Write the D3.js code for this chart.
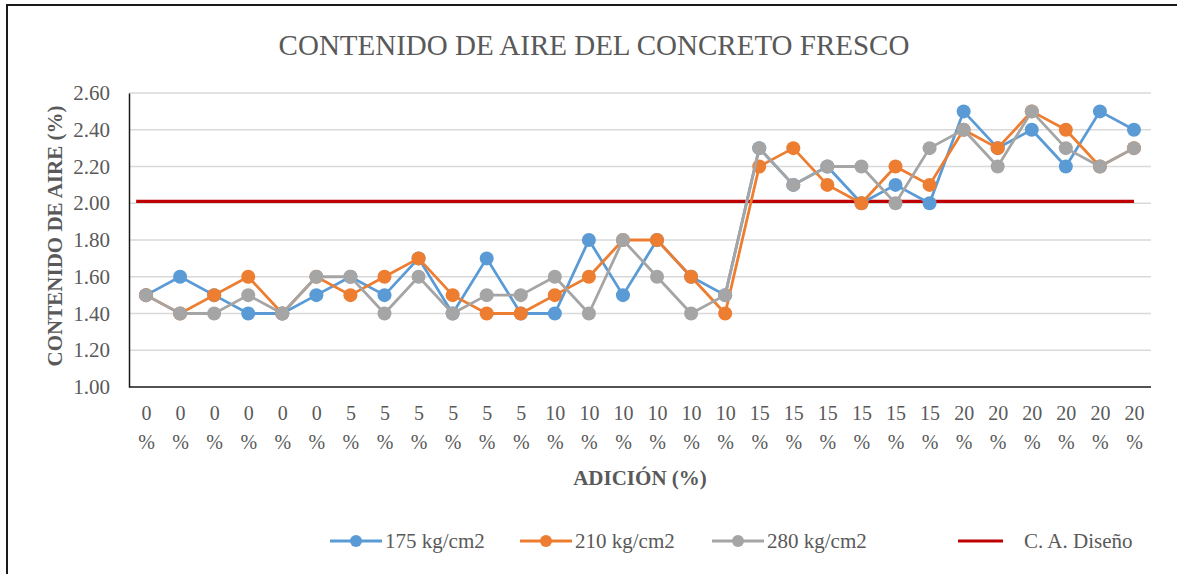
<!DOCTYPE html>
<html>
<head>
<meta charset="utf-8">
<script src="https://cdnjs.cloudflare.com/ajax/libs/d3/7.8.5/d3.min.js"></script>
<style>
  html, body { margin: 0; padding: 0; background: #fff; }
  svg { display: block; }
  svg text { font-family: "Liberation Serif", "Times New Roman", serif; }
</style>
</head>
<body>
<svg id="chart" width="1177" height="574"></svg>
<script>
// ---- data ----
const categories = ["0","0","0","0","0","0","5","5","5","5","5","5","10","10","10","10","10","10","15","15","15","15","15","15","20","20","20","20","20","20"];
const series175 = [1.5,1.6,1.5,1.4,1.4,1.5,1.6,1.5,1.7,1.4,1.7,1.4,1.4,1.8,1.5,1.8,1.6,1.5,2.3,2.1,2.2,2.0,2.1,2.0,2.5,2.3,2.4,2.2,2.5,2.4];
const series210 = [1.5,1.4,1.5,1.6,1.4,1.6,1.5,1.6,1.7,1.5,1.4,1.4,1.5,1.6,1.8,1.8,1.6,1.4,2.2,2.3,2.1,2.0,2.2,2.1,2.4,2.3,2.5,2.4,2.2,2.3];
const series280 = [1.5,1.4,1.4,1.5,1.4,1.6,1.6,1.4,1.6,1.4,1.5,1.5,1.6,1.4,1.8,1.6,1.4,1.5,2.3,2.1,2.2,2.2,2.0,2.3,2.4,2.2,2.5,2.3,2.2,2.3];
const designValue = 2.01;
const seriesNames = ["175 kg/cm2","210 kg/cm2","280 kg/cm2"];
const designName = "C. A. Diseño";
const yTicks = [1.0,1.2,1.4,1.6,1.8,2.0,2.2,2.4,2.6];
const titleText = "CONTENIDO DE AIRE DEL CONCRETO FRESCO";
const yTitle = "CONTENIDO DE AIRE (%)";
const xTitle = "ADICIÓN (%)";

// ---- styles ----
const colors = ["#5B9BD5","#ED7D31","#A5A5A5"];
const designColor = "#C00000";
const textColor = "#595959";

const svg = d3.select("#chart");
const plot = {left: 129, right: 1151, top: 93, bottom: 387};

// outer frame (right/bottom edges fall outside the picture)
svg.append("rect").attr("x", 7).attr("y", 5).attr("width", 1200).attr("height", 600)
  .attr("fill", "none").attr("stroke", "#1a1a1a").attr("stroke-width", 2);

const idx = d3.range(categories.length);
const x = d3.scalePoint().domain(idx).range([plot.left, plot.right]).padding(0.5);
const y = d3.scaleLinear().domain([1.0, 2.6]).range([plot.bottom, plot.top]);

// gridlines
svg.append("g").selectAll("line").data(yTicks.filter(t => t > 1.0)).join("line")
  .attr("x1", plot.left).attr("x2", plot.right)
  .attr("y1", d => y(d)).attr("y2", d => y(d))
  .attr("stroke", "#D9D9D9").attr("stroke-width", 1.3);

// y axis
const yAxis = d3.axisLeft(y).tickValues(yTicks).tickFormat(d3.format(".2f")).tickSize(0).tickPadding(19);
const gy = svg.append("g").attr("transform", `translate(${plot.left},0)`).call(yAxis)
  .attr("font-family", null).attr("font-size", null);
gy.select(".domain").attr("stroke", "#1a1a1a").attr("stroke-width", 1.5);
gy.selectAll("text").style("font-size", "21px").attr("fill", textColor);

// x axis
const xAxis = d3.axisBottom(x).tickSize(0).tickFormat("");
const gx = svg.append("g").attr("transform", `translate(0,${plot.bottom})`).call(xAxis)
  .attr("font-family", null).attr("font-size", null);
gx.select(".domain").attr("stroke", "#1a1a1a").attr("stroke-width", 1.5)
  .attr("d", `M${plot.left},0H${plot.right}`);
gx.selectAll(".tick").each(function(d) {
  const t = d3.select(this).append("text").style("font-size", "20px")
    .attr("fill", textColor).attr("text-anchor", "middle");
  t.append("tspan").attr("x", 0).attr("y", 33).text(categories[d]);
  t.append("tspan").attr("x", 0).attr("y", 62).text("%");
});

// design line
const step = x.step();
svg.append("line")
  .attr("x1", x(0) - step * 0.29).attr("x2", x(categories.length - 1))
  .attr("y1", y(designValue)).attr("y2", y(designValue))
  .attr("stroke", designColor).attr("stroke-width", 3.2);

// series
const allSeries = [series175, series210, series280];
const line = d3.line().x((d, i) => x(i)).y(d => y(d));
allSeries.forEach((s, k) => {
  const g = svg.append("g");
  g.append("path").datum(s).attr("d", line).attr("fill", "none")
    .attr("stroke", colors[k]).attr("stroke-width", 2.8).attr("stroke-linejoin", "round");
  g.selectAll("circle").data(s).join("circle")
    .attr("cx", (d, i) => x(i)).attr("cy", d => y(d)).attr("r", 7)
    .attr("fill", colors[k]);
});

// title
svg.append("text").attr("x", 594).attr("y", 55).attr("text-anchor", "middle")
  .style("font-size", "29px").attr("fill", textColor).text(titleText);

// axis titles
svg.append("text").attr("transform", "translate(62,236) rotate(-90)").attr("text-anchor", "middle")
  .style("font-size", "21px").attr("font-weight", "bold").attr("fill", textColor).text(yTitle);
svg.append("text").attr("x", 640).attr("y", 485).attr("text-anchor", "middle")
  .style("font-size", "21px").attr("font-weight", "bold").attr("fill", textColor).text(xTitle);

// legend
const legY = 541;
const legX = [330, 520, 712];
seriesNames.forEach((name, k) => {
  const g = svg.append("g").attr("transform", `translate(${legX[k]},${legY})`);
  g.append("line").attr("x1", 0).attr("x2", 52).attr("y1", 0).attr("y2", 0)
    .attr("stroke", colors[k]).attr("stroke-width", 2.8);
  g.append("circle").attr("cx", 26).attr("cy", 0).attr("r", 6).attr("fill", colors[k]);
  g.append("text").attr("x", 55).attr("y", 7).style("font-size", "21px")
    .attr("fill", textColor).text(name);
});
const gd = svg.append("g").attr("transform", `translate(958,${legY})`);
gd.append("line").attr("x1", 0).attr("x2", 45).attr("y1", 0).attr("y2", 0)
  .attr("stroke", designColor).attr("stroke-width", 3.2);
gd.append("text").attr("x", 66).attr("y", 7).style("font-size", "21px")
  .attr("fill", textColor).text(designName);
</script>
</body>
</html>
